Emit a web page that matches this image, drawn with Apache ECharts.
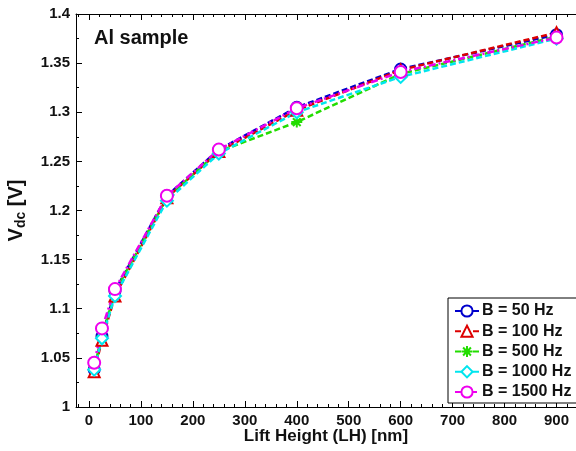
<!DOCTYPE html>
<html><head><meta charset="utf-8">
<script src="https://cdn.jsdelivr.net/npm/echarts@6/dist/echarts.min.js"></script>
<style>html,body{margin:0;padding:0;background:#fff}#c{width:576px;height:451px}</style>
</head><body><div id="c"></div>
<script>
const liftHeights = [10, 25, 50, 150, 250, 400, 600, 900];
const b50   = [1.038, 1.072, 1.118, 1.215, 1.262, 1.305, 1.344, 1.379];
const b100  = [1.036, 1.068, 1.113, 1.213, 1.260, 1.302, 1.343, 1.381];
const b500  = [1.040, 1.072, 1.117, 1.213, 1.260, 1.290, 1.339, 1.377];
const b1000 = [1.038, 1.070, 1.113, 1.210, 1.258, 1.300, 1.336, 1.375];
const b1500 = [1.045, 1.080, 1.120, 1.215, 1.262, 1.304, 1.341, 1.376];
const seriesNames = ['B = 50 Hz', 'B = 100 Hz', 'B = 500 Hz', 'B = 1000 Hz', 'B = 1500 Hz'];
const xMajorTicks = [0, 100, 200, 300, 400, 500, 600, 700, 800, 900];
const X_MIN = -25, X_MAX = 937.5;
const xMinorTicks = [];
for (let v = -20; v <= 920; v += 20) xMinorTicks.push(v);

const FONT = '"Liberation Sans", Arial, sans-serif';
const asterisk = 'path://M0,-10L0,10M-10,0L10,0M-7,-7L7,7M-7,7L7,-7';

function pts(v){ return liftHeights.map((x,i)=>[x, v[i]]); }
function mk(name, data, color, symbol, size, dash){
  return {
    name, type:'line', data: pts(data), symbol, symbolSize: size, showAllSymbol:true,
    xAxisIndex:0, yAxisIndex:0,
    lineStyle:{color, width:2.5, type: dash},
    itemStyle:{color: color, borderColor: color, borderWidth: 2},
    emphasis:{disabled:true}, animation:false, z: 3
  };
}

const chart = echarts.init(document.getElementById('c'), null, {renderer:'canvas'});
const common = {min:X_MIN, max:X_MAX, type:'value'};
const tickAxis = (pos, vals, len) => Object.assign({}, common, {
  position: pos,
  axisLine:{show:false},
  axisTick:{show:true, inside:true, length:len, customValues: vals, lineStyle:{color:'#000'}},
  axisLabel:{show:false}, splitLine:{show:false}
});
chart.setOption({
  backgroundColor:'#fff',
  animation:false,
  grid:{left:76, right:0, top:14, bottom:44, containLabel:false, outerBoundsMode:'none'},
  xAxis:[
    Object.assign({}, common, {
      position:'bottom',
      name:'Lift Height (LH) [nm]', nameLocation:'middle', nameGap:21, nameMoveOverlap:false,
      nameTextStyle:{fontFamily:FONT, fontWeight:'bold', fontSize:17, color:'#111'},
      axisLine:{show:true, onZero:false, lineStyle:{color:'#000', width:1}},
      axisTick:{show:true, inside:true, length:6, customValues: xMajorTicks, lineStyle:{color:'#000'}},
      axisLabel:{show:true, margin:6, fontFamily:FONT, fontWeight:'bold', fontSize:15, color:'#111',
        customValues: xMajorTicks},
      splitLine:{show:false}
    }),
    tickAxis('bottom', xMinorTicks, 3),
    Object.assign(tickAxis('top', xMajorTicks, 6), {axisLine:{show:true, onZero:false, lineStyle:{color:'#000', width:1}}}),
    tickAxis('top', xMinorTicks, 3)
  ],
  yAxis:[{
    type:'value', min:1, max:1.4, interval:0.05,
    name:'{v|V}{s|dc}{v| [V]}', nameLocation:'middle', nameGap:48, nameRotate:90, nameMoveOverlap:false,
    nameTextStyle:{rich:{
      v:{fontFamily:FONT, fontWeight:'bold', fontSize:20, color:'#111'},
      s:{fontFamily:FONT, fontWeight:'bold', fontSize:14, color:'#111', verticalAlign:'bottom', padding:[9,0,0,0]}
    }},
    axisLine:{show:true, onZero:false, lineStyle:{color:'#000', width:1}},
    axisTick:{show:true, inside:true, length:6, lineStyle:{color:'#000'}},
    minorTick:{show:true, splitNumber:2, length:3, lineStyle:{color:'#000'}},
    axisLabel:{margin:6, fontFamily:FONT, fontWeight:'bold', fontSize:15, color:'#111',
      formatter: v => String(parseFloat(v.toFixed(2)))},
    splitLine:{show:false}
  }],
  legend:{
    data: seriesNames, orient:'vertical', left:448, top:298,
    backgroundColor:'#fff', borderColor:'#000', borderWidth:1,
    padding:[5,30,3,6], itemGap:4.25, itemWidth:24, itemHeight:14,
    textStyle:{fontFamily:FONT, fontWeight:'bold', fontSize:16, color:'#111', padding:[0,0,0,-2]}
  },
  graphic:[{type:'text', left:94, top:28, style:{text:'Al sample', font:'bold 20px "Liberation Sans", Arial, sans-serif', fill:'#111'}}],
  series:[
    mk(seriesNames[0], b50,   '#0000cc', 'emptyCircle', 11, [6,3]),
    mk(seriesNames[1], b100,  '#dd0000', 'emptyTriangle', 11, [6,3]),
    mk(seriesNames[2], b500,  '#22dd00', asterisk, 11, [6,3]),
    mk(seriesNames[3], b1000, '#00e5ee', 'emptyDiamond', 12, [6,3]),
    mk(seriesNames[4], b1500, '#ee00ee', 'emptyCircle', 12, [7,3,2,3])
  ]
});
</script></body></html>
